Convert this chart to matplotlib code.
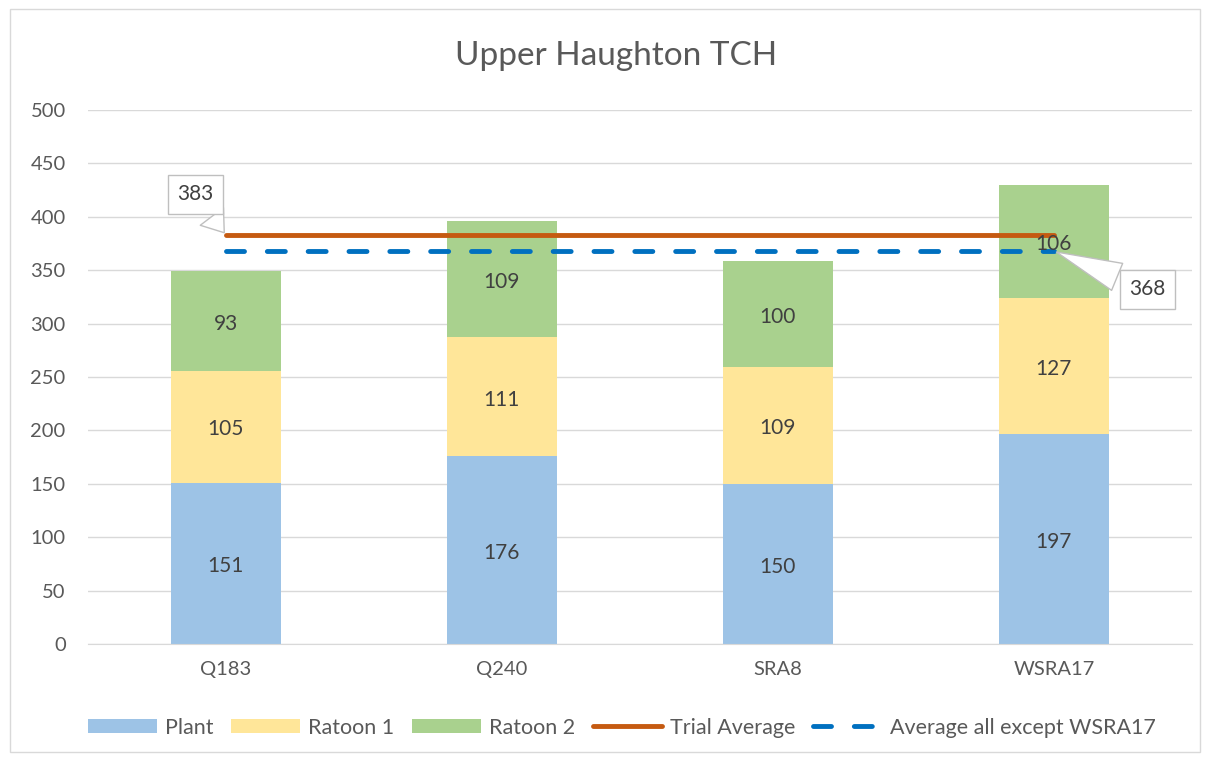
import matplotlib
matplotlib.use("Agg")
import matplotlib.pyplot as plt
import numpy as np
from matplotlib.patches import Rectangle
from matplotlib.transforms import offset_copy

categories = ["Q183", "Q240", "SRA8", "WSRA17"]
plant = [151, 176, 150, 197]
ratoon1 = [105, 111, 109, 127]
ratoon2 = [93, 109, 100, 106]
trial_average = 383
avg_except = 368
yticks = [0, 50, 100, 150, 200, 250, 300, 350, 400, 450, 500]

plt.rcParams['font.family'] = ['Lato', 'DejaVu Sans']

fig = plt.figure(figsize=(12.1, 7.58), dpi=100)
ax = fig.add_axes([0.0727, 0.1504, 0.9123, 0.7045])

x = np.arange(len(categories))
w = 0.4
c_plant, c_r1, c_r2 = '#9DC3E6', '#FFE699', '#A9D18E'
txt = '#404040'

b1 = ax.bar(x, plant, w, color=c_plant, label='Plant', zorder=2)
b2 = ax.bar(x, ratoon1, w, bottom=plant, color=c_r1, label='Ratoon 1', zorder=2)
bot2 = np.array(plant) + np.array(ratoon1)
b3 = ax.bar(x, ratoon2, w, bottom=bot2, color=c_r2, label='Ratoon 2', zorder=2)

lbl_tr = offset_copy(ax.transData, fig=fig, x=0, y=-2, units='points')
for bars, vals, bots in [(b1, plant, np.zeros(4)), (b2, ratoon1, np.array(plant)), (b3, ratoon2, bot2)]:
    for xi, v, b in zip(x, vals, bots):
        ax.text(xi, b + v / 2, str(v), ha='center', va='center', fontsize=15, color=txt,
                zorder=4, transform=lbl_tr)

ta, = ax.plot([x[0], x[-1]], [trial_average] * 2, color='#C55A11', lw=3.5,
              solid_capstyle='round', label='Trial Average', zorder=3)
ae, = ax.plot([x[0], x[-1]], [avg_except] * 2, color='#0070C0', lw=3.5,
              dashes=(3.7, 4.7), dash_capstyle='round', label='Average all except WSRA17', zorder=3)

ax.set_xlim(-0.5, 3.5)
ax.set_ylim(0, 500)
ax.set_yticks(yticks)
ax.set_xticks(x)
ax.set_xticklabels(categories)
ax.tick_params(axis='both', length=0, labelsize=14.5, labelcolor='#595959')
ax.tick_params(axis='y', pad=16)
ax.tick_params(axis='x', pad=12)
ax.grid(axis='y', color='#D9D9D9', lw=1, zorder=0)
ax.set_axisbelow(True)
for s in ['top', 'right', 'left']:
    ax.spines[s].set_visible(False)
ax.spines['bottom'].set_color('#D9D9D9')

fig.text(0.509, 0.926, 'Upper Haughton TCH', fontsize=24, color='#595959',
         ha='center', va='center')

box = dict(boxstyle='square,pad=0.45', fc='white', ec='#BFBFBF', lw=1)
arr = dict(arrowstyle='wedge,tail_width=1.4', fc='white', ec='#BFBFBF', lw=1)
ax.annotate(str(trial_average), xy=(x[0], trial_average), xytext=(-0.112, 421),
            ha='center', va='center', fontsize=15, color=txt, bbox=box, arrowprops=arr, zorder=5)
ax.annotate(str(avg_except), xy=(x[-1], avg_except), xytext=(3.34, 332),
            ha='center', va='center', fontsize=15, color=txt, bbox=box, arrowprops=arr, zorder=5)

leg = fig.legend(handles=[b1, b2, b3, ta, ae], loc='center', bbox_to_anchor=(0.514, 0.04),
                 ncol=5, frameon=False, fontsize=15.5, labelcolor='#595959',
                 handlelength=3.2, handleheight=0.65, columnspacing=0.8, handletextpad=0.4)

fig.patches.append(Rectangle((0.008, 0.008), 0.984, 0.98, transform=fig.transFigure,
                             fill=False, ec='#D9D9D9', lw=1))

fig.savefig('out.png', dpi=100)
